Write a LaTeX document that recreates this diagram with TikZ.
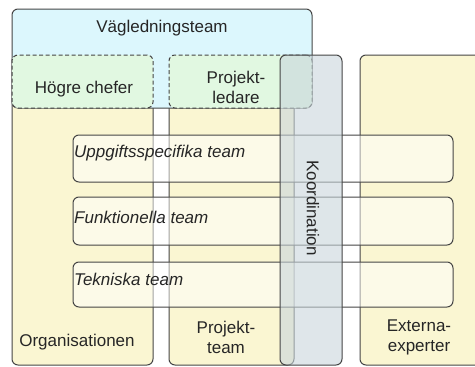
\documentclass[tikz,border=0pt]{standalone}
\usepackage{fontspec}
\setmainfont{Liberation Sans}

\definecolor{boxline}{HTML}{454545}
\definecolor{orgyellow}{HTML}{FAF6D2}
\definecolor{vagcyan}{HTML}{DCF7FD}
\definecolor{ledgreen}{HTML}{E1F8E1}
\definecolor{koordgray}{HTML}{C9D6DC}

\tikzset{
  box/.style={draw=boxline, line width=1pt, rounded corners=6pt, inner sep=0pt},
  dashbox/.style={box, dash pattern=on 4pt off 2.5pt},
  teambar/.style={box, fill=white, fill opacity=.5, minimum width=380pt},
  boxtext/.style={font=\fontsize{17}{20}\selectfont, text=black!85, align=center, inner sep=0pt}
}

\begin{document}
\begin{tikzpicture}[x=1pt,y=-1pt]
  \useasboundingbox (0,0) rectangle (475,367);
  \clip (0,0) rectangle (475,367);

  % columns
  \begin{scope}[every node/.style={box, fill=orgyellow, minimum height=310pt}]
    \node[minimum width=141pt] (org)  at (82.5,210) {};
    \node[minimum width=125pt] (proj) at (231.5,210) {};
    \node[minimum width=122pt] (ext)  at (421,210) {};
  \end{scope}

  % steering group
  \node[box, fill=vagcyan, minimum width=300pt, minimum height=99pt] (vag) at (162,58.5) {};
  \begin{scope}[every node/.style={dashbox, fill=ledgreen, minimum height=53pt}]
    \node[minimum width=141pt] (chef) at (82.5,81.5) {};
    \node[minimum width=143pt] (led)  at (240.5,81.5) {};
  \end{scope}

  % teams
  \node[teambar, minimum height=47pt] (uppg) at (263,158.5) {};
  \node[teambar, minimum height=48pt] (funk) at (263,221) {};
  \node[teambar, minimum height=45pt] (tekn) at (263,284.5) {};

  % coordination
  \node[box, fill=koordgray, fill opacity=.6, minimum width=62pt, minimum height=310pt] (koord) at (311,210) {};

  \begin{scope}[every node/.style={boxtext}]
    \node (vagtext)   at (162,28)  {Vägledningsteam};
    \node (cheftext)  at (84,89)   {Högre chefer};
    \node (ledtext)   at (236,87)  {Projekt-\\ledare};
    \node (orgtext)   at (77,342)  {Organisationen};
    \node (projtext)  at (226,337) {Projekt-\\team};
    \node (exttext)   at (419,337) {Externa-\\experter};
    \node[rotate=-90] (koordtext) at (313,208) {Koordination};
  \end{scope}

  \begin{scope}[every node/.style={boxtext, anchor=west, font=\fontsize{17}{20}\selectfont\itshape}]
    \node (uppgtext) at (74,153) {Uppgiftsspecifika team};
    \node (funktext) at (74,217) {Funktionella team};
    \node (tekntext) at (74,279) {Tekniska team};
  \end{scope}

\end{tikzpicture}
\end{document}
